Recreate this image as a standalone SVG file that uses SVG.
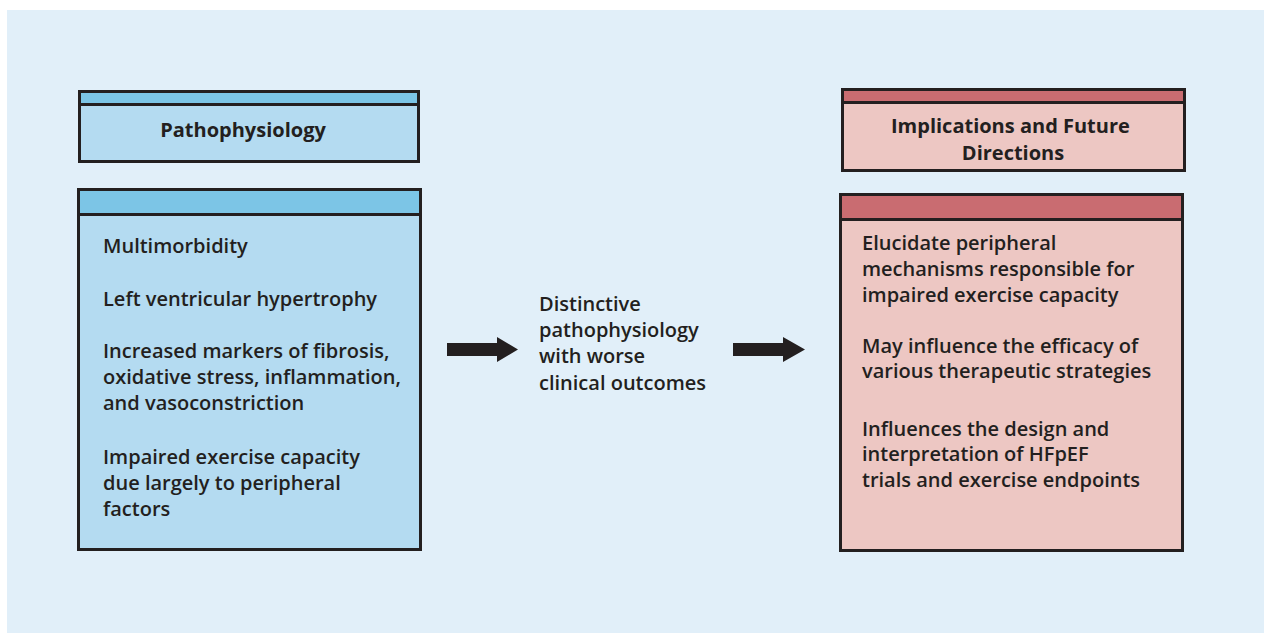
<svg xmlns="http://www.w3.org/2000/svg" width="1265" height="635" viewBox="0 0 1265 635">
  <style>
    .frame { stroke: #231f20; stroke-width: 3; }
    .blue-strip { fill: #7cc5e6; }
    .blue-body { fill: #b4dbf1; }
    .red-strip { fill: #c96c71; }
    .red-body { fill: #edc7c3; }
    .t { font-family: "Open Sans", "Noto Sans", sans-serif; font-size: 20px; fill: #231f20; font-weight: 600; }
    .title { font-family: "Open Sans", "Noto Sans", sans-serif; font-size: 20px; fill: #231f20; font-weight: 700; }
    .arrow { fill: #231f20; }
  </style>

  <rect x="0" y="0" width="1265" height="635" fill="#ffffff"/>
  <rect x="7" y="10" width="1257" height="623" fill="#e1eff9"/>

  <g id="pathophysiology-title">
    <rect x="79.5" y="91.5" width="339" height="70" class="blue-body frame"/>
    <rect x="79.5" y="91.5" width="339" height="13" class="blue-strip frame"/>
    <text x="243" y="137" class="title" text-anchor="middle">Pathophysiology</text>
  </g>

  <g id="pathophysiology-body">
    <rect x="78.5" y="189.5" width="342" height="360" class="blue-body frame"/>
    <rect x="78.5" y="189.5" width="342" height="25" class="blue-strip frame"/>
    <text class="t">
      <tspan x="103" y="253">Multimorbidity</tspan>
      <tspan x="103" y="306">Left ventricular hypertrophy</tspan>
      <tspan x="103" y="358">Increased markers of fibrosis,</tspan>
      <tspan x="103" y="384">oxidative stress, inflammation,</tspan>
      <tspan x="103" y="410">and vasoconstriction</tspan>
      <tspan x="103" y="464">Impaired exercise capacity</tspan>
      <tspan x="103" y="490">due largely to peripheral</tspan>
      <tspan x="103" y="516">factors</tspan>
    </text>
  </g>

  <g id="outcome">
    <text class="t">
      <tspan x="539" y="311">Distinctive</tspan>
      <tspan x="539" y="337">pathophysiology</tspan>
      <tspan x="539" y="363">with worse</tspan>
      <tspan x="539" y="390">clinical outcomes</tspan>
    </text>
  </g>

  <g id="implications-title">
    <rect x="842.5" y="89.5" width="342" height="81" class="red-body frame"/>
    <rect x="842.5" y="89.5" width="342" height="13" class="red-strip frame"/>
    <text class="title" text-anchor="middle">
      <tspan x="1013" y="133">Implications and Future</tspan>
      <tspan x="1013" y="160">Directions</tspan>
    </text>
  </g>

  <g id="implications-body">
    <rect x="840.5" y="194.5" width="342" height="356" class="red-body frame"/>
    <rect x="840.5" y="194.5" width="342" height="25" class="red-strip frame"/>
    <text class="t">
      <tspan x="862" y="250">Elucidate peripheral</tspan>
      <tspan x="862" y="276">mechanisms responsible for</tspan>
      <tspan x="862" y="302">impaired exercise capacity</tspan>
      <tspan x="862" y="353">May influence the efficacy of</tspan>
      <tspan x="862" y="378">various therapeutic strategies</tspan>
      <tspan x="862" y="436">Influences the design and</tspan>
      <tspan x="862" y="461">interpretation of HFpEF</tspan>
      <tspan x="862" y="487">trials and exercise endpoints</tspan>
    </text>
  </g>

  <g id="connectors">
    <polygon class="arrow" points="447,343 497,343 497,337 518,349.5 497,362 497,356 447,356"/>
    <polygon class="arrow" points="733,343 783,343 783,337 805,349.5 783,362 783,356 733,356"/>
  </g>
</svg>
